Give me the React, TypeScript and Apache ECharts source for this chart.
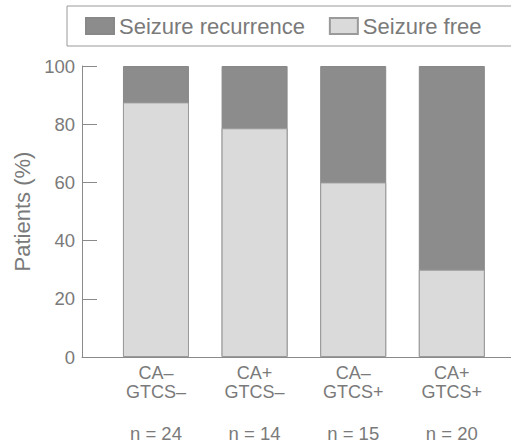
import React, { useEffect, useRef } from "react";
import * as echarts from "echarts";

const caLabels = ["CA–", "CA+", "CA–", "CA+"];
const gtcsLabels = ["GTCS–", "GTCS–", "GTCS+", "GTCS+"];
const nCounts = [24, 14, 15, 20];
const seizureFree = [87.5, 78.6, 60, 30];
const seizureRecurrence = [12.5, 21.4, 40, 70];
const yTicks = [0, 20, 40, 60, 80, 100];

const FONT = "'Liberation Sans', Arial, Helvetica, sans-serif";
const TEXT = "#7a7a7a";
const AXIS = "#8a8a8a";

export default function App() {
  const ref = useRef<HTMLDivElement>(null);
  useEffect(() => {
    if (!ref.current) return;
    const chart = echarts.init(ref.current, null, { renderer: "svg" });
    const positions = caLabels.map((_, i) => i);
    // top of each bar = seizure free + recurrence (drawn behind the seizure-free part)
    const totals = seizureFree.map((v, i) => v + seizureRecurrence[i]);
    chart.setOption({
      animation: false,
      backgroundColor: "#ffffff",
      textStyle: { fontFamily: FONT },
      legend: {
        left: 67,
        top: 6,
        width: 520,
        orient: "horizontal",
        padding: [9, 45, 9, 18],
        borderColor: "#9a9a9a",
        borderWidth: 1,
        itemWidth: 28,
        itemHeight: 16,
        itemGap: 24,
        icon: "rect",
        data: ["Seizure recurrence", "Seizure free"],
        textStyle: { fontSize: 22, color: TEXT, fontFamily: FONT },
      },
      grid: { left: 82, right: 0, top: 66, bottom: 86, containLabel: false },
      xAxis: {
        type: "value",
        min: -0.75,
        max: 3.6,
        splitLine: { show: false },
        axisLine: { show: true, onZero: false, lineStyle: { color: AXIS, width: 1 } },
        axisTick: { show: false },
        axisLabel: {
          customValues: positions,
          margin: 6,
          formatter: (v: number) => {
            const i = Math.round(v);
            return `{c|${caLabels[i]}}\n{c|${gtcsLabels[i]}}\n{n|n = ${nCounts[i]}}`;
          },
          rich: {
            c: { fontSize: 18, lineHeight: 19.5, color: TEXT, fontFamily: FONT, align: "center" },
            n: { fontSize: 18.5, lineHeight: 62, color: TEXT, fontFamily: FONT, align: "center", verticalAlign: "middle" },
          },
        },
      },
      yAxis: {
        type: "value",
        min: 0,
        max: 100,
        interval: 20,
        name: "Patients (%)",
        nameLocation: "middle",
        nameGap: 49,
        nameTextStyle: { fontSize: 22, color: TEXT, fontFamily: FONT },
        splitLine: { show: false },
        axisLine: { show: true, onZero: false, lineStyle: { color: AXIS, width: 1 } },
        axisTick: { show: true, inside: true, length: 15, lineStyle: { color: AXIS, width: 1 } },
        axisLabel: {
          fontSize: 18.5,
          color: TEXT,
          margin: 7,
          fontFamily: FONT,
          formatter: (v: number) => (yTicks.includes(v) ? String(v) : ""),
        },
      },
      series: [
        {
          name: "Seizure recurrence",
          type: "bar",
          barWidth: 66,
          barGap: "-100%",
          z: 2,
          data: totals.map((v, i) => [positions[i], v]),
          itemStyle: { color: "#8c8c8c", borderColor: "#888888", borderWidth: 1 },
        },
        {
          name: "Seizure free",
          type: "bar",
          barWidth: 66,
          barGap: "-100%",
          z: 3,
          data: seizureFree.map((v, i) => [positions[i], v]),
          itemStyle: { color: "#dadada", borderColor: "#9a9a9a", borderWidth: 1 },
        },
      ],
    });
    return () => chart.dispose();
  }, []);
  return (
    <div
      ref={ref}
      style={{ position: "absolute", left: 0, top: 0, width: 511, height: 443 }}
    />
  );
}
